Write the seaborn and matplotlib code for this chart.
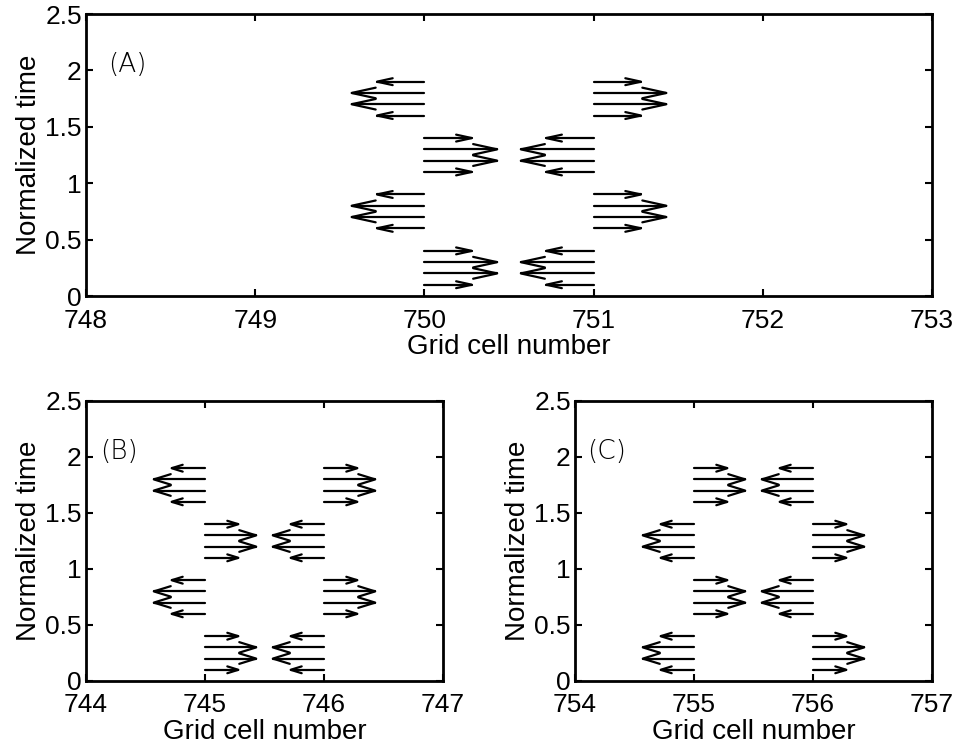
import numpy as np
import pandas as pd
import matplotlib
matplotlib.use("Agg")
import matplotlib.pyplot as plt
import seaborn as sns

# ---------------- data ----------------
times = [0.25, 0.75, 1.25, 1.75]            # group centre (normalized time)
row_offsets = [-0.15, -0.05, 0.05, 0.15]    # four arrows in each group
row_lengths = [0.28, 0.43, 0.43, 0.28]      # arrow lengths (grid cells)

# panel A
cells_A = [750, 751]
dirs_A_left = [1, -1, 1, -1]     # direction of arrows starting at the left cell
dirs_A_right = [-1, 1, -1, 1]    # direction of arrows starting at the right cell
# panel B
cells_B = [745, 746]
dirs_B_left = [1, -1, 1, -1]
dirs_B_right = [-1, 1, -1, 1]
# panel C
cells_C = [755, 756]
dirs_C_left = [-1, 1, -1, 1]
dirs_C_right = [1, -1, 1, -1]

xlim_A = (748, 753)
xlim_B = (744, 747)
xlim_C = (754, 757)
xticks_A = [748, 749, 750, 751, 752, 753]
xticks_B = [744, 745, 746, 747]
xticks_C = [754, 755, 756, 757]
yticks = [0, 0.5, 1, 1.5, 2, 2.5]
ytick_labels = ["0", "0.5", "1", "1.5", "2", "2.5"]
panel_labels = ["(A)", "(B)", "(C)"]

ALPHA, BETA = 0.33, 0.33  # quiver-style open arrow heads


def arrow_frame(cells, dirs_left, dirs_right):
    rows = []
    seg = 0
    for cell, dirs in ((cells[0], dirs_left), (cells[1], dirs_right)):
        for t, d in zip(times, dirs):
            for off, L in zip(row_offsets, row_lengths):
                y0 = t + off
                u = d * L
                tip = cell + u
                hx = tip - ALPHA * u
                hy = ALPHA * BETA * abs(u)
                rows += [(cell, y0, seg), (tip, y0, seg)]
                seg += 1
                rows += [(hx, y0 + hy, seg), (tip, y0, seg), (hx, y0 - hy, seg)]
                seg += 1
    return pd.DataFrame(rows, columns=["x", "y", "seg"])


sns.set_theme(style="ticks")
plt.rcParams["font.family"] = ["Liberation Sans", "DejaVu Sans"]
plt.rcParams["text.color"] = "black"
plt.rcParams["axes.labelcolor"] = "black"
plt.rcParams["xtick.color"] = "black"
plt.rcParams["ytick.color"] = "black"

fig = plt.figure(figsize=(9.56, 7.49), dpi=100)
axA = fig.add_axes([86 / 956, 1 - 296 / 749, (932 - 86) / 956, 282 / 749])
axB = fig.add_axes([86 / 956, 1 - 681 / 749, (443 - 86) / 956, 280 / 749])
axC = fig.add_axes([575 / 956, 1 - 681 / 749, (932 - 575) / 956, 280 / 749])

specs = [
    (axA, cells_A, dirs_A_left, dirs_A_right, xlim_A, xticks_A, panel_labels[0], 0.13),
    (axB, cells_B, dirs_B_left, dirs_B_right, xlim_B, xticks_B, panel_labels[1], 0.12),
    (axC, cells_C, dirs_C_left, dirs_C_right, xlim_C, xticks_C, panel_labels[2], 0.10),
]

for ax, cells, dl, dr, xlim, xt, lab, lx in specs:
    df = arrow_frame(cells, dl, dr)
    sns.lineplot(data=df, x="x", y="y", units="seg", estimator=None, sort=False,
                 color="black", lw=1.6, ax=ax, legend=False)
    ax.set_xlim(*xlim)
    ax.set_ylim(0, 2.5)
    ax.set_xticks(xt)
    ax.set_xticklabels([str(v) for v in xt])
    ax.set_yticks(yticks)
    ax.set_yticklabels(ytick_labels)
    ax.tick_params(direction="in", length=5, width=1.5, top=True, right=True,
                   labelsize=19, colors="black")
    ax.tick_params(axis="x", pad=9)
    ax.tick_params(axis="y", pad=3)
    for s in ax.spines.values():
        s.set_visible(True)
        s.set_linewidth(2)
        s.set_color("black")
    ax.set_xlabel("Grid cell number", fontsize=20, labelpad=1, color="black")
    ax.set_ylabel("Normalized time", fontsize=20, labelpad=2, color="black")
    ax.text(xlim[0] + lx, 2.05, lab, fontsize=19, ha="left", va="center",
            family=["DejaVu Sans"], fontweight="light", color="black")
    ax.set_facecolor("white")

fig.savefig("out.png", dpi=100, facecolor="white")
